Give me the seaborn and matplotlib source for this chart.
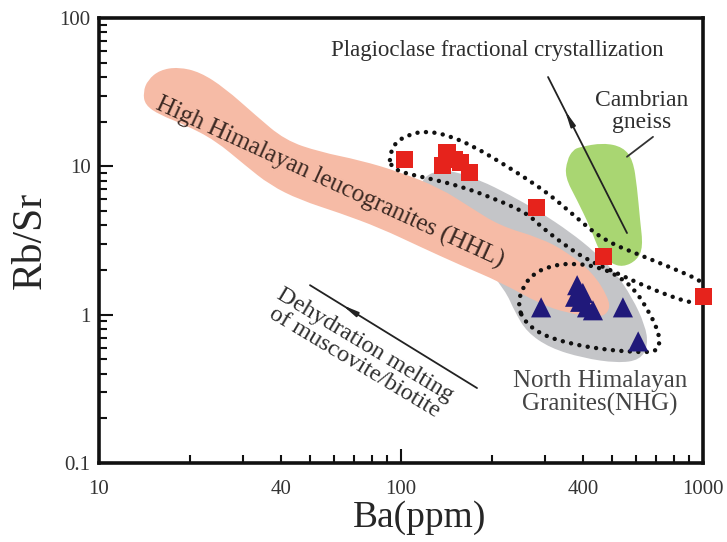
import numpy as np
import matplotlib
matplotlib.use('Agg')
import matplotlib.pyplot as plt
import seaborn as sns
from matplotlib.path import Path
from matplotlib.patches import PathPatch
from matplotlib.ticker import FixedLocator, FixedFormatter, FuncFormatter

# samples: Ba (ppm) vs Rb/Sr
sq_ba = [103, 142, 137, 157, 169, 150, 282, 470, 1000]
sq_rbsr = [11.2, 12.3, 10.2, 10.6, 9.1, 11.2, 5.3, 2.45, 1.33]
tri_ba = [291, 383, 377, 392, 413, 432, 400, 543, 610]
tri_rbsr = [1.12, 1.58, 1.32, 1.22, 1.12, 1.07, 1.4, 1.12, 0.66]

# field outlines (Ba, Rb/Sr)
hhl_ba = [14.0, 14.5, 15.9, 18.3, 21.6, 26.1, 32.9, 41.3, 53.9, 73.1, 99.2, 134.6, 169, 213, 289, 355, 432, 485, 492,
          456, 355, 289, 213, 157, 116, 85.2, 62.8, 46.3, 36.8, 30.4, 24.2, 19.3, 15.9, 14.2]
hhl_rbsr = [31.7, 38.2, 44.6, 46.7, 43.2, 33.7, 22.2, 15.0, 12.5, 11.0, 9.15, 7.14, 5.32, 3.96, 3.29, 2.64, 1.91, 1.31, 1.07,
            0.949, 1.025, 1.18, 1.66, 2.16, 2.86, 3.84, 4.84, 5.93, 7.48, 10.2, 15.0, 19.0, 22.2, 25.9]
nhg_ba = [113.9, 117.4, 126.6, 145.3, 182.6, 229.6, 288.6, 362.8, 439, 511, 582, 643, 658, 619, 519, 401, 311.5, 261,
          238.5, 221, 182.6, 145.3, 120.1]
nhg_rbsr = [6.71, 8.08, 9.15, 9.44, 8.08, 6.41, 4.92, 3.61, 2.64, 1.94, 1.31, 0.851, 0.624, 0.494, 0.472, 0.510, 0.596,
            0.763, 1.04, 1.47, 2.33, 3.72, 5.48]
gneiss_ba = [391.4, 466.6, 543.4, 586.6, 604.8, 618.7, 633, 604.8, 543.4, 492.2, 456, 422.6, 382.6, 349.1, 354.6, 371.2]
gneiss_rbsr = [13.5, 14.4, 13.5, 11.0, 7.25, 4.35, 2.86, 2.33, 2.09, 2.23, 2.60, 3.90, 5.93, 8.47, 11.0, 12.9]
upper_ba = [91.9, 95.5, 105.5, 120.1, 142.0, 173.1, 212.7, 261.4, 311.5, 362.8, 466.6, 618.7, 777.7, 977.4, 1055, 1039,
            940.7, 777.7, 618.7, 492.2, 422.6, 362.8, 288.6, 261.4, 201.6, 156.8, 121.9, 99.2, 91.9]
upper_rbsr = [11.9, 14.4, 16.3, 17.3, 16.3, 13.7, 10.7, 8.21, 6.41, 4.92, 3.18, 2.52, 2.09, 1.71, 1.47, 1.25,
              1.18, 1.33, 1.61, 2.00, 2.30, 2.77, 3.96, 4.84, 6.11, 7.36, 8.34, 9.15, 10.2]
lower_ba = [244, 251.6, 273.6, 311.5, 371.2, 456, 531.1, 595.6, 657.6, 709.6, 720.5, 693.6, 586.6, 456, 354.6, 288.6, 254]
lower_rbsr = [1.16, 1.51, 1.88, 2.13, 2.23, 2.09, 1.79, 1.47, 1.07, 0.788, 0.624, 0.560, 0.560, 0.586, 0.644, 0.740, 0.920]

# trend vectors (start, end)
plag_ba = [306.8, 560.2]
plag_rbsr = [40.0, 3.55]
dehyd_ba = [49.96, 178.5]
dehyd_rbsr = [1.58, 0.320]
gneiss_ptr_ba = [560, 683]
gneiss_ptr_rbsr = [11.6, 15.8]

x_major = [10, 100, 1000]
x_minor = [20, 30, 40, 50, 60, 70, 80, 90, 200, 300, 400, 500, 600, 700, 800, 900]
x_minor_labels = {40: '40', 400: '400'}
y_major = [0.1, 1, 10, 100]
y_minor = [k * d for d in (0.1, 1, 10) for k in range(2, 10)]

sns.set_style('ticks')
plt.rcParams['font.family'] = ['Liberation Serif', 'DejaVu Serif']


def smooth_outline(bx, by):
    # closed quadratic-bezier path through the midpoints (log space), vertices as control points
    lx, ly = np.log10(bx), np.log10(by)
    mx = (lx + np.roll(lx, -1)) / 2
    my = (ly + np.roll(ly, -1)) / 2
    verts = [(10 ** mx[-1], 10 ** my[-1])]
    codes = [Path.MOVETO]
    for i in range(len(lx)):
        verts += [(10 ** lx[i], 10 ** ly[i]), (10 ** mx[i], 10 ** my[i])]
        codes += [Path.CURVE3, Path.CURVE3]
    return Path(verts, codes)


fig = plt.figure(figsize=(7.27, 5.42), dpi=100)
ax = fig.add_axes([0.1362, 0.1458, 0.8308, 0.821])
ax.set_xscale('log')
ax.set_yscale('log')
ax.set_xlim(10, 1000)
ax.set_ylim(0.1, 100)

# fields
ax.add_patch(PathPatch(smooth_outline(nhg_ba, nhg_rbsr), facecolor='#c4c5c8', lw=0, zorder=1))
ax.add_patch(PathPatch(smooth_outline(hhl_ba, hhl_rbsr), facecolor='#f6bba6', lw=0, zorder=2))
ax.add_patch(PathPatch(smooth_outline(gneiss_ba, gneiss_rbsr), facecolor='#a9d672', lw=0, zorder=2))

# dotted group outlines
for bx, by in [(upper_ba, upper_rbsr), (lower_ba, lower_rbsr)]:
    ax.add_patch(PathPatch(smooth_outline(bx, by), fill=False, edgecolor='#111111', lw=3.2,
                           linestyle=(0, (0.01, 1.9)), capstyle='round', zorder=3))


def vector(bx, by, frac):
    ax.plot(bx, by, color='#222222', lw=1.3, zorder=4)
    lx, ly = np.log10(bx), np.log10(by)
    head = (10 ** (lx[0] + frac * (lx[1] - lx[0])), 10 ** (ly[0] + frac * (ly[1] - ly[0])))
    tail = (10 ** (lx[0] + (frac + 0.12) * (lx[1] - lx[0])), 10 ** (ly[0] + (frac + 0.12) * (ly[1] - ly[0])))
    ax.annotate('', xy=head, xytext=tail,
                arrowprops=dict(arrowstyle='-|>,head_length=0.9,head_width=0.15', color='#222222', lw=1.3),
                zorder=4)


vector(plag_ba, plag_rbsr, 0.2)
vector(dehyd_ba, dehyd_rbsr, 0.18)
ax.plot(gneiss_ptr_ba, gneiss_ptr_rbsr, color='#333333', lw=1.3, zorder=4)

# samples
sns.scatterplot(x=sq_ba, y=sq_rbsr, marker='s', s=150, color='#e6231c', edgecolor='none', ax=ax,
                zorder=5, clip_on=False)
sns.scatterplot(x=tri_ba, y=tri_rbsr, marker='^', s=210, color='#20197a', edgecolor='none', ax=ax,
                zorder=5, clip_on=False)

# labels
txt = '#2e2e2e'
ax.text(0.659, 0.928, 'Plagioclase fractional crystallization', transform=ax.transAxes,
        ha='center', va='center', fontsize=16.5, color=txt)
ax.text(0.899, 0.789, 'Cambrian\ngneiss', transform=ax.transAxes, ha='center', va='center',
        fontsize=17, color=txt, linespacing=1.05)
ax.text(0.382, 0.629, 'High Himalayan leucogranites (HHL)', transform=ax.transAxes, ha='center', va='center',
        rotation=-24.6, rotation_mode='anchor', fontsize=18, color='#3a2822')
ax.text(0.432, 0.245, 'Dehydration melting\nof muscovite/biotite', transform=ax.transAxes, ha='center',
        va='center', rotation=-31, rotation_mode='anchor', fontsize=17.5, color=txt, linespacing=0.95)
ax.text(0.829, 0.157, 'North Himalayan\nGranites(NHG)', transform=ax.transAxes, ha='center', va='center',
        fontsize=18, color='#444444', linespacing=1.05)

ax.set_xlabel('Ba(ppm)', fontsize=27)
ax.set_ylabel('Rb/Sr', fontsize=30)
ax.xaxis.set_label_coords(0.531, -0.083)
ax.yaxis.set_label_coords(-0.082, 0.5)

# axes and ticks
ax.xaxis.set_major_locator(FixedLocator(x_major))
ax.xaxis.set_major_formatter(FixedFormatter([str(v) for v in x_major]))
ax.xaxis.set_minor_locator(FixedLocator(x_minor))
ax.xaxis.set_minor_formatter(FuncFormatter(lambda v, p: x_minor_labels.get(int(round(v)), '')))
ax.yaxis.set_major_locator(FixedLocator(y_major))
ax.yaxis.set_major_formatter(FixedFormatter(['0.1', '1', '10', '100']))
ax.yaxis.set_minor_locator(FixedLocator(y_minor))
ax.yaxis.set_minor_formatter(FuncFormatter(lambda v, p: ''))
ax.tick_params(which='both', direction='in', width=1.5, colors='#111111', labelsize=15, labelcolor='#333333')
ax.tick_params(which='major', length=10)
ax.tick_params(which='minor', length=6)
ax.tick_params(axis='x', which='both', pad=12)
ax.tick_params(axis='y', which='both', pad=6)
for s in ax.spines.values():
    s.set_linewidth(2.6)
    s.set_color('#111111')
    s.set_visible(True)
ax.grid(False)

fig.savefig('out.png', dpi=100)
